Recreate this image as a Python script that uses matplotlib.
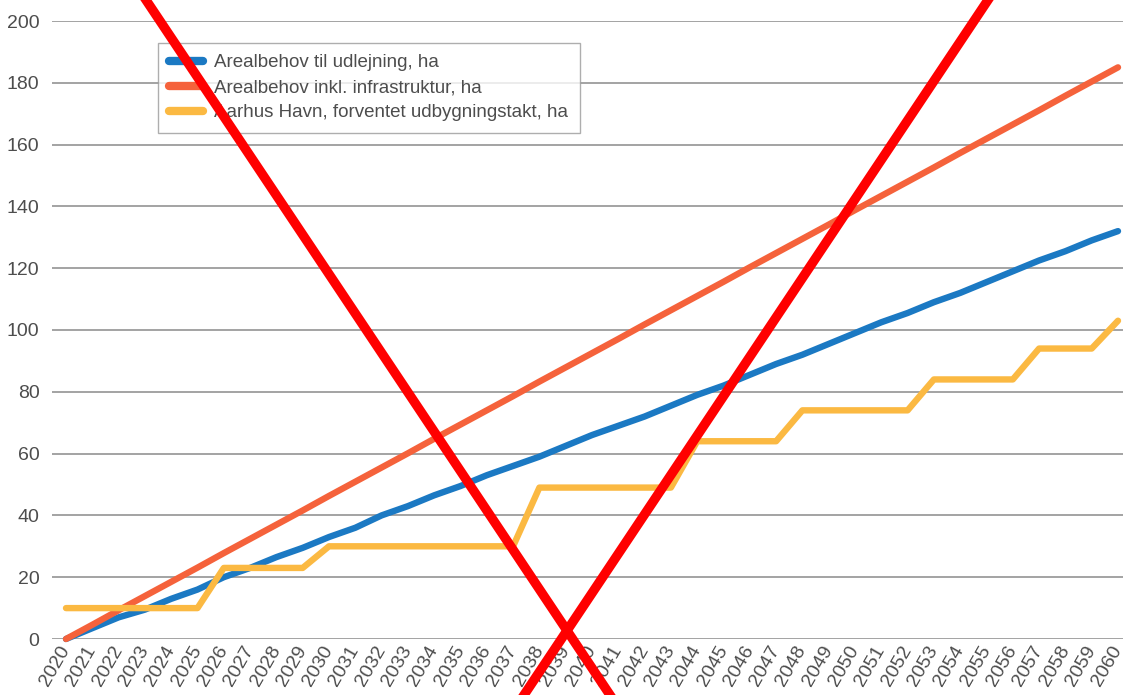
import numpy as np
import matplotlib.pyplot as plt
from matplotlib.lines import Line2D

years = list(range(2020, 2061))

# Arealbehov til udlejning (ha)
udlejning = [0, 3.5, 7, 9.5, 13, 16, 20, 23, 26.5, 29.5,
             33, 36, 40, 43, 46.5, 49.5, 53, 56, 59, 62.5,
             66, 69, 72, 75.5, 79, 82, 85.5, 89, 92, 95.5,
             99, 102.5, 105.5, 109, 112, 115.5, 119, 122.5, 125.5, 129,
             132]

# Arealbehov inkl. infrastruktur (ha)
infrastruktur = [0, 4.6, 9.3, 13.9, 18.5, 23.1, 27.8, 32.4, 37, 41.6,
                 46.3, 50.9, 55.5, 60.1, 64.8, 69.4, 74, 78.6, 83.3, 87.9,
                 92.5, 97.1, 101.8, 106.4, 111, 115.6, 120.3, 124.9, 129.5, 134.1,
                 138.8, 143.4, 148, 152.6, 157.3, 161.9, 166.5, 171.1, 175.8, 180.4,
                 185]

# Aarhus Havn, forventet udbygningstakt (ha)
udbygning = [10, 10, 10, 10, 10, 10, 23, 23, 23, 23,
             30, 30, 30, 30, 30, 30, 30, 30, 49, 49,
             49, 49, 49, 49, 64, 64, 64, 64, 74, 74,
             74, 74, 74, 84, 84, 84, 84, 94, 94, 94,
             103]

labels = ["Arealbehov til udlejning, ha",
          "Arealbehov inkl. infrastruktur, ha",
          "Aarhus Havn, forventet udbygningstakt, ha"]
colors = ["#1b79c3", "#f5623b", "#fbb942"]

plt.rcParams['font.family'] = ['Liberation Sans', 'DejaVu Sans']
text_color = "#4d4d4d"

fig = plt.figure(figsize=(11.23, 6.95), dpi=100)
ax = fig.add_axes([52 / 1123, 1 - 639 / 695, 1 - 52 / 1123, (639 - 21) / 695])

for vals, c, lab in zip([udlejning, infrastruktur, udbygning], colors, labels):
    ax.plot(years, vals, color=c, lw=4.6, label=lab, solid_capstyle='round',
            solid_joinstyle='round', clip_on=False, zorder=3)

ax.set_xlim(2020 - 14 / 26.3, 2060 + 5 / 26.3)
ax.set_ylim(0, 200)
ax.set_yticks(np.arange(0, 201, 20))
ax.set_xticks(years)
ax.set_xticklabels([str(y) for y in years], rotation=60, ha='right',
                   va='center', rotation_mode='anchor')
ax.grid(axis='y', color='#a3a3a3', lw=1.4)
ax.set_axisbelow(True)
for s in ax.spines.values():
    s.set_visible(False)
ax.tick_params(axis='both', length=0, labelsize=14, labelcolor=text_color)
ax.tick_params(axis='y', pad=9)
ax.tick_params(axis='x', pad=6)

leg = ax.legend(loc='upper left', bbox_to_anchor=(106 / 1071, 1 - 22 / 618),
                fontsize=13.5, frameon=True, fancybox=False, handlelength=1.8,
                handletextpad=0.6, borderpad=0.6, labelspacing=0.42,
                borderaxespad=0)
leg.get_frame().set_edgecolor('#9a9a9a')
leg.get_frame().set_linewidth(1.0)
for t in leg.get_texts():
    t.set_color(text_color)
for h in leg.get_lines():
    h.set_linewidth(6)
    h.set_solid_capstyle('round')

# red cross over the whole figure
for x0, x1 in [(146, 610), (988, 524)]:
    fig.add_artist(Line2D([x0 / 1123, x1 / 1123], [1, 0], color='#ff0000',
                          lw=6.8, transform=fig.transFigure, zorder=10))

fig.savefig("out.png", dpi=100)
